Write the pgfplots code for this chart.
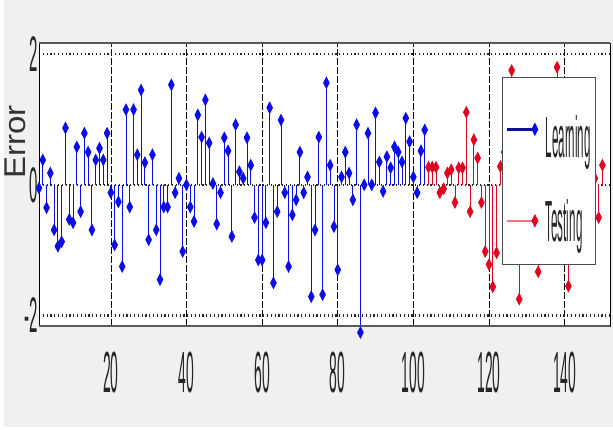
\documentclass[border=0pt]{standalone}
\usepackage{fontspec}
\setmainfont{Liberation Sans}
\usepackage{graphicx}
\usepackage{pgfplots}
\pgfplotsset{compat=1.18}
\definecolor{stemblue}{rgb}{0.05,0.05,0.9}
\definecolor{stemred}{rgb}{0.88,0.02,0.12}
\definecolor{legblue}{rgb}{0.05,0.05,0.6}
\definecolor{legred}{rgb}{0.95,0.45,0.5}
\tikzset{legline/.style={}}
\begin{document}
\begin{tikzpicture}[x=1pt,y=1pt]
\useasboundingbox (0,0) rectangle (613,430);
\fill[white] (0,0) rectangle (613,430);
\fill[black!6] (4,3) rectangle (613,430);
\begin{axis}[
  scale only axis, width=571pt, height=283pt,
  at={(39pt,104pt)}, anchor=south west,
  xmin=1, xmax=152, ymin=-2.16, ymax=2.17,
  clip=false,
  axis background/.style={fill=white},
  xtick={20,40,...,140}, ytick={-2,2},
  extra y ticks={0},
  extra y tick style={grid style={black!75, line width=3.5pt, solid}},
  major tick length=0pt,
  xmajorgrids, ymajorgrids,
  x grid style={black, line width=0.6pt, dash pattern=on 7pt off 2pt},
  y grid style={black!85, line width=2.6pt, dash pattern=on 1.2pt off 2.6pt},
  axis line style={black, line width=0.8pt},
  /pgf/number format/assume math mode=true,
  tick label style={text=black!85},
  xticklabel={\fontsize{58}{58}\selectfont\scalebox{0.24}[1]{\pgfmathprintnumber{\tick}}},
  yticklabel={\fontsize{50}{50}\selectfont\scalebox{0.3}[1]{\pgfmathprintnumber{\tick}}},
  xticklabel style={anchor=center, yshift=-47pt},
  yticklabel style={anchor=east, inner sep=1pt},
  ylabel={\scalebox{1.1}[1]{Error}},
  ylabel style={at={(-0.022,0.65)}, anchor=south, font=\fontsize{30}{30}\selectfont, text=black!80, inner sep=0pt},
  legend style={at={(0.811,0.88)}, anchor=north west, draw=black!70, line width=1.2pt, fill=white,
    font=\fontsize{58}{58}\selectfont, text=black!85, inner xsep=3pt, inner ysep=20pt, row sep=36pt,
    column sep=6pt, nodes={inner sep=2pt}},
  legend cell align=left,
  legend image code/.code={
    \draw[#1, sharp plot, line width=2.4pt, legline] (0pt,0pt) -- (28pt,0pt);
    \draw[#1, sharp plot, only marks] plot coordinates {(28pt,0pt)};
  },
]
\addplot[ycomb, color=stemblue, line width=0.9pt, mark=diamond*, mark size=5.5pt,
  mark options={xscale=0.68, fill=stemblue, draw=stemblue}, forget plot] coordinates {
(1,-0.05) (2,0.38) (3,-0.35) (4,0.18) (5,-0.69) (6,-0.94) (7,-0.87) (8,0.87) (9,-0.53) (10,-0.58)
(11,0.58) (12,-0.41) (13,0.79) (14,0.50) (15,-0.69) (16,0.38) (17,0.56) (18,0.38) (19,0.79) (20,-0.12)
(21,-0.92) (22,-0.26) (23,-1.25) (24,1.15) (25,-0.34) (26,1.15) (27,0.46) (28,1.45) (29,0.34) (30,-0.84)
(31,0.46) (32,-0.69) (33,-1.45) (34,-0.34) (35,-0.34) (36,1.53) (37,-0.12) (38,0.10) (39,-1.02) (40,0.00)
(41,-0.34) (42,-0.56) (43,1.07) (44,0.73) (45,1.30) (46,0.64) (47,0.02) (48,-0.60) (49,-0.12) (50,0.72)
(51,0.52) (52,-0.79) (53,0.92) (54,0.20) (55,0.10) (56,0.72) (57,0.30) (58,-0.50) (59,-1.15) (60,-1.15)
(61,-0.58) (62,1.18) (63,-1.50) (64,-0.41) (65,0.99) (66,-0.12) (67,-1.25) (68,-0.46) (69,-0.23) (70,0.50)
(71,-0.12) (72,0.12) (73,-1.71) (74,-0.69) (75,0.73) (76,-1.68) (77,1.56) (78,0.30) (79,-0.64) (80,-1.30)
(81,0.12) (82,0.50) (83,0.18) (84,-0.23) (85,0.92) (86,-2.26) (87,0.00) (88,0.79) (89,0.00) (90,1.10)
(91,0.35) (92,-0.10) (93,0.43) (94,0.26) (95,0.58) (96,0.50) (97,0.35) (98,1.02) (99,0.66) (100,0.12)
(101,-0.12) (102,0.52) (103,0.84)
};
\addplot[ycomb, color=stemred, line width=0.9pt, mark=diamond*, mark size=5.5pt,
  mark options={xscale=0.68, fill=stemred, draw=stemred}, forget plot] coordinates {
(104,0.27) (105,0.27) (106,0.27) (107,-0.12) (108,-0.06) (109,0.18) (110,0.23) (111,-0.27) (112,0.26) (113,0.26)
(114,1.11) (115,-0.41) (116,0.69) (117,0.41) (118,-0.27) (119,-1.02) (120,-1.22) (121,-1.56) (122,-1.04) (123,0.28)
(124,0.50) (125,-0.60) (126,1.75) (127,0.30) (128,-1.75) (129,0.80) (130,-0.40) (131,0.60) (132,0.20) (133,-1.33)
(134,0.90) (135,-0.50) (136,0.40) (137,-0.90) (138,1.80) (139,0.30) (140,-0.70) (141,-1.55) (142,0.50) (143,0.20)
(144,-0.30) (145,0.60) (146,-0.80) (147,0.40) (148,0.10) (149,-0.50) (150,0.30)
};
\draw[black!65, line width=2.5pt] (rel axis cs:0,1) -- (rel axis cs:1,1);
\draw[black!65, line width=2.5pt] (rel axis cs:0,0) -- (rel axis cs:1,0);
\addlegendimage{color=stemblue, mark=diamond*, mark size=5.5pt, mark options={xscale=0.68, fill=stemblue, draw=stemblue}, legline/.style={draw=legblue}}
\addlegendimage{color=stemred, mark=diamond*, mark size=5.5pt, mark options={xscale=0.68, fill=stemred, draw=stemred}, legline/.style={draw=legred}}
\legend{\scalebox{0.2}[1]{\rule{0pt}{58pt}Learning}, \scalebox{0.2}[1]{Testing}}
\end{axis}
\end{tikzpicture}
\end{document}
